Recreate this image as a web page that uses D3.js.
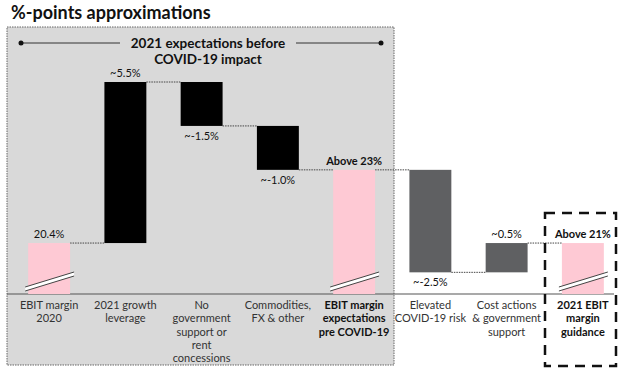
<!DOCTYPE html>
<html lang="en">
<head>
<meta charset="utf-8">
<title>%-points approximations</title>
<script src="https://cdn.jsdelivr.net/npm/d3@7"></script>
<style>
  body { margin: 0; background: #fff; }
  svg text { font-family: Lato, "Open Sans", sans-serif; }
</style>
</head>
<body>
<div id="chart"></div>
<script>
// categories (lines of each label) and which are bold totals
var categories = [
  ["EBIT margin", "2020"],
  ["2021 growth", "leverage"],
  ["No", "government", "support or", "rent", "concessions"],
  ["Commodities,", "FX & other"],
  ["EBIT margin", "expectations", "pre COVID-19"],
  ["Elevated", "COVID-19 risk"],
  ["Cost actions", "& government", "support"],
  ["2021 EBIT", "margin", "guidance"]
];
// kind of each step: start / delta / total
var kinds = ["total", "delta", "delta", "delta", "total", "delta", "delta", "total"];
// drawn step sizes (schematic, as in the picture); totals are null
var steps = [20.4, 5.5, -1.5, -1.5, null, -3.5, 1.0, null];
var valueLabels = ["20.4%", "~5.5%", "~-1.5%", "~-1.0%", "Above 23%", "~-2.5%", "~0.5%", "Above 21%"];
var barColors = ["pink", "black", "black", "black", "pink", "gray", "gray", "pink"];

var W = 622, H = 375;
var svg = d3.select("#chart").append("svg")
  .attr("width", W).attr("height", H);

// build waterfall extents
var run = 0;
var bars = categories.map(function(c, i) {
  var lo, hi;
  if (kinds[i] == "total") {
    if (steps[i] != null) run = steps[i];
    lo = null; hi = run;
  } else {
    var prev = run;
    run = run + steps[i];
    lo = Math.min(prev, run); hi = Math.max(prev, run);
  }
  return { i: i, lines: c, kind: kinds[i], lo: lo, hi: hi, end: run, up: steps[i] > 0 };
});

var x = d3.scaleBand()
  .domain(d3.range(categories.length))
  .range([11, 621])
  .paddingInner(0.45)
  .paddingOuter(0.225);

// broken axis: bottom of plot is not zero
var y = d3.scaleLinear()
  .domain([18.66, 25.9])
  .range([294, 82]);

var fills = { pink: "#fec9d4", black: "#000000", gray: "#5f6062" };

// gray highlight box
svg.append("rect")
  .attr("x", 7).attr("y", 27).attr("width", 387).attr("height", 338)
  .attr("fill", "#d9d9d9")
  .attr("stroke", "#666").attr("stroke-width", 1)
  .attr("stroke-dasharray", "1.5,1");

// title
svg.append("text")
  .attr("x", 11).attr("y", 19)
  .attr("font-size", 18).attr("font-weight", "bold")
  .attr("fill", "#111")
  .text("%-points approximations");

// header inside the box
var hdr = svg.append("g");
hdr.append("line").attr("x1", 21).attr("x2", 120).attr("y1", 43).attr("y2", 43)
  .attr("stroke", "#333").attr("stroke-width", 1);
hdr.append("line").attr("x1", 296).attr("x2", 381).attr("y1", 43).attr("y2", 43)
  .attr("stroke", "#333").attr("stroke-width", 1);
hdr.append("circle").attr("cx", 21).attr("cy", 43).attr("r", 2.5).attr("fill", "#111");
hdr.append("circle").attr("cx", 381).attr("cy", 43).attr("r", 2.5).attr("fill", "#111");
hdr.append("text").attr("x", 208).attr("y", 48).attr("text-anchor", "middle")
  .attr("font-size", 13.5).attr("font-weight", "bold").attr("fill", "#111")
  .text("2021 expectations before");
hdr.append("text").attr("x", 208).attr("y", 64).attr("text-anchor", "middle")
  .attr("font-size", 13.5).attr("font-weight", "bold").attr("fill", "#111")
  .text("COVID-19 impact");

// axis line
svg.append("line")
  .attr("x1", 7).attr("x2", 614).attr("y1", y.range()[0]).attr("y2", y.range()[0])
  .attr("stroke", "#555").attr("stroke-width", 1.2);

// connectors between bars
for (var i = 0; i < bars.length - 1; i++) {
  var b = bars[i];
  svg.append("line")
    .attr("x1", x(i) + x.bandwidth()).attr("x2", x(i + 1))
    .attr("y1", y(b.end)).attr("y2", y(b.end))
    .attr("stroke", "#444").attr("stroke-width", 1)
    .attr("stroke-dasharray", "1.5,1");
}

// bars
bars.forEach(function(b) {
  var top = y(b.hi);
  var bottom = b.lo == null ? y.range()[0] : y(b.lo);
  svg.append("rect")
    .attr("x", x(b.i)).attr("y", top)
    .attr("width", x.bandwidth()).attr("height", bottom - top)
    .attr("fill", fills[barColors[b.i]]);
});

// break marks on total bars
bars.filter(function(b) { return b.kind == "total"; }).forEach(function(b) {
  var x0 = x(b.i) - 3, x1 = x(b.i) + x.bandwidth() + 4;
  var ya = y.range()[0] - 3, yb = ya - 15;
  svg.append("polygon")
    .attr("points", [[x0, ya], [x1, yb], [x1, yb - 4], [x0, ya - 4]].join(" "))
    .attr("fill", "#fff");
  [0, -4].forEach(function(o) {
    svg.append("line")
      .attr("x1", x0).attr("y1", ya + o).attr("x2", x1).attr("y2", yb + o)
      .attr("stroke", "#444").attr("stroke-width", 1);
  });
});

// value labels
bars.forEach(function(b) {
  var above = b.kind == "total" || b.up;
  var yy = above ? y(b.hi) - 5 : (b.lo == null ? y.range()[0] : y(b.lo)) + 14;
  svg.append("text")
    .attr("x", x(b.i) + x.bandwidth() / 2).attr("y", yy)
    .attr("text-anchor", "middle")
    .attr("font-size", 11)
    .attr("font-weight", b.kind == "total" && b.i > 0 ? "bold" : "normal")
    .attr("fill", "#111")
    .text(valueLabels[b.i]);
});

// category labels
bars.forEach(function(b) {
  var bold = b.kind == "total" && b.i > 0;
  var t = svg.append("text")
    .attr("text-anchor", "middle")
    .attr("font-size", 11)
    .attr("font-weight", bold ? "bold" : "normal")
    .attr("fill", bold ? "#111" : "#333");
  b.lines.forEach(function(l, k) {
    t.append("tspan")
      .attr("x", x(b.i) + x.bandwidth() / 2)
      .attr("y", 309 + k * 13.3)
      .text(l);
  });
});

// dashed frame around guidance
svg.append("rect")
  .attr("x", 545).attr("y", 213).attr("width", 71).attr("height", 153)
  .attr("fill", "none").attr("stroke", "#111").attr("stroke-width", 2.5)
  .attr("stroke-dasharray", "10,7");
</script>
</body>
</html>
